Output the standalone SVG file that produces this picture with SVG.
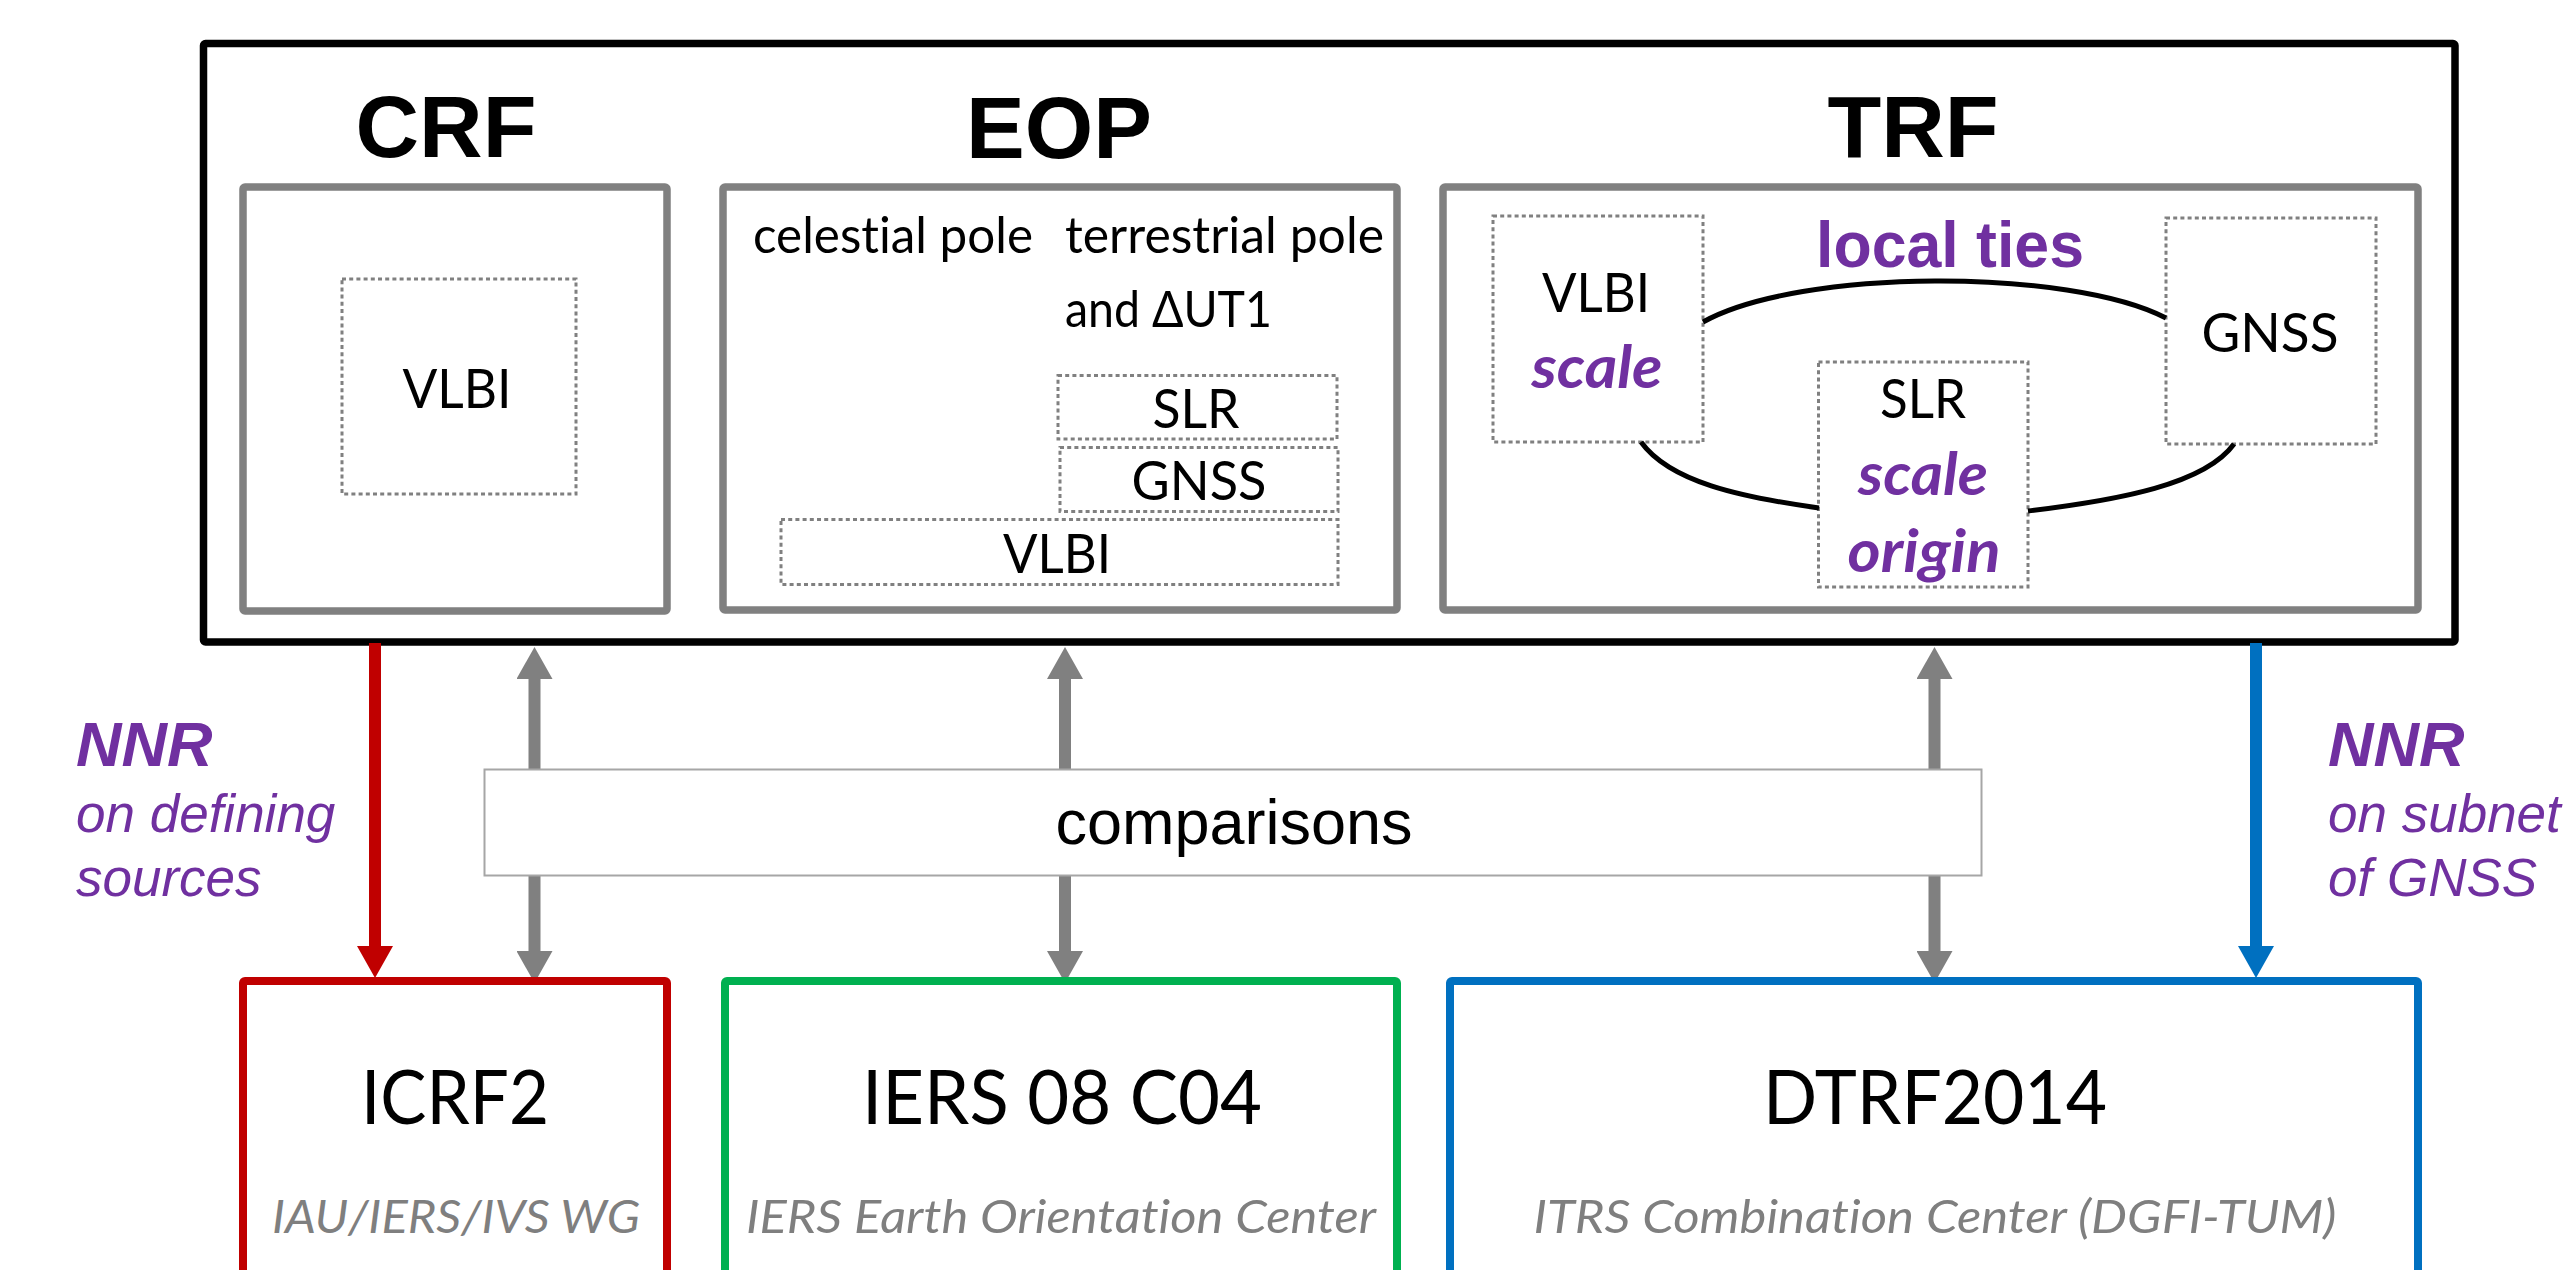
<svg xmlns="http://www.w3.org/2000/svg" width="2569" height="1270" viewBox="0 0 2569 1270">
<style>
text{font-variant-ligatures:none}
.title{font-family:"Liberation Sans",Arial,sans-serif;font-weight:bold;font-size:88px;fill:#000;text-anchor:middle}
.lbl{font-family:Lato,"Open Sans",sans-serif;font-size:55px;fill:#000;text-anchor:middle}
.desc{font-family:Lato,"Open Sans",sans-serif;font-size:50px;fill:#000}
.pur{font-family:Lato,"Open Sans",sans-serif;font-weight:bold;font-style:italic;font-size:60px;fill:#7030A0;text-anchor:middle}
.ties{font-family:"Liberation Sans",Arial,sans-serif;font-weight:bold;font-size:64px;fill:#7030A0;text-anchor:middle}
.nnr{font-family:"Liberation Sans",Arial,sans-serif;font-weight:bold;font-style:italic;font-size:63px;fill:#7030A0}
.nnrs{font-family:"Liberation Sans",Arial,sans-serif;font-style:italic;font-size:53px;fill:#7030A0}
.cmp{font-family:"Liberation Sans",Arial,sans-serif;font-size:63px;fill:#000;text-anchor:middle}
.big{font-family:Lato,"Open Sans",sans-serif;font-size:76px;fill:#000;text-anchor:middle}
.sub{font-family:Lato,"Open Sans",sans-serif;font-style:italic;font-size:47px;fill:#7F7F7F;text-anchor:middle}
.gbox{fill:#fff;stroke:#808080;stroke-width:7.5}
.dot{fill:none;stroke:#808080;stroke-width:3;stroke-dasharray:4 3.2}
.tie{fill:none;stroke:#000;stroke-width:5}
</style>
<defs>
<marker id="ahRed" markerUnits="userSpaceOnUse" viewBox="0 0 32 36" markerWidth="32" markerHeight="36" refX="2" refY="18" orient="auto-start-reverse"><path d="M0,0 L32,18 L0,36 z" fill="#C00000"/></marker>
<marker id="ahGray" markerUnits="userSpaceOnUse" viewBox="0 0 32 36" markerWidth="32" markerHeight="36" refX="2" refY="18" orient="auto-start-reverse"><path d="M0,0 L32,18 L0,36 z" fill="#808080"/></marker>
<marker id="ahBlue" markerUnits="userSpaceOnUse" viewBox="0 0 32 36" markerWidth="32" markerHeight="36" refX="2" refY="18" orient="auto-start-reverse"><path d="M0,0 L32,18 L0,36 z" fill="#0070C0"/></marker>
</defs>
<rect width="2569" height="1270" fill="#fff"/>

<g id="outer">
<rect x="203.5" y="43.5" width="2251.5" height="598.5" rx="2" fill="#fff" stroke="#000" stroke-width="7.5"/>
</g>

<g id="crf">
<text class="title" x="446" y="157">CRF</text>
<rect class="gbox" x="243" y="187" width="424" height="424" rx="2"/>
<rect class="dot" x="342" y="279" width="234" height="215"/>
<text class="lbl" x="457" y="408" textLength="109" lengthAdjust="spacingAndGlyphs">VLBI</text>
</g>

<g id="eop">
<text class="title" x="1059" y="158">EOP</text>
<rect class="gbox" x="723" y="187" width="674" height="423" rx="2"/>
<text class="desc" x="753" y="253" textLength="280" lengthAdjust="spacingAndGlyphs">celestial pole</text>
<text class="desc" x="1065" y="253" textLength="319" lengthAdjust="spacingAndGlyphs">terrestrial pole</text>
<text class="desc" x="1065" y="327" textLength="207" lengthAdjust="spacingAndGlyphs">and ΔUT1</text>
<rect class="dot" x="1058" y="375.5" width="279" height="63.5"/>
<text class="lbl" x="1196" y="428" textLength="87" lengthAdjust="spacingAndGlyphs">SLR</text>
<rect class="dot" x="1060" y="447.5" width="278" height="64"/>
<text class="lbl" x="1199" y="500" textLength="135" lengthAdjust="spacingAndGlyphs">GNSS</text>
<rect class="dot" x="781" y="519.5" width="557" height="65"/>
<text class="lbl" x="1057" y="573" textLength="108" lengthAdjust="spacingAndGlyphs">VLBI</text>
</g>

<g id="trf">
<text class="title" x="1913" y="157">TRF</text>
<rect class="gbox" x="1443" y="187" width="975" height="423" rx="2"/>
<rect class="dot" x="1493" y="216" width="210" height="226"/>
<text class="lbl" x="1596" y="312" textLength="108" lengthAdjust="spacingAndGlyphs">VLBI</text>
<text class="pur" x="1597" y="388" textLength="131" lengthAdjust="spacingAndGlyphs">scale</text>
<rect class="dot" x="2166" y="218" width="210" height="226"/>
<text class="lbl" x="2270" y="352" textLength="137" lengthAdjust="spacingAndGlyphs">GNSS</text>
<rect class="dot" x="1818.5" y="362" width="209.5" height="225"/>
<text class="lbl" x="1923" y="418" textLength="86" lengthAdjust="spacingAndGlyphs">SLR</text>
<text class="pur" x="1923" y="495" textLength="130" lengthAdjust="spacingAndGlyphs">scale</text>
<text class="pur" x="1924" y="572" textLength="153" lengthAdjust="spacingAndGlyphs">origin</text>
<text class="ties" x="1950" y="267" textLength="268" lengthAdjust="spacingAndGlyphs">local ties</text>
</g>

<g id="connectors">
<path class="tie" d="M1703,322 C1800,268 2070,268 2166,318"/>
<path class="tie" d="M1641,442 C1670,482 1740,497 1819,508"/>
<path class="tie" d="M2234,444 C2205,484 2120,500 2028,511"/>
<line x1="375" y1="643" x2="375" y2="948" stroke="#C00000" stroke-width="12" marker-end="url(#ahRed)"/>
<line x1="534.5" y1="677" x2="534.5" y2="953" stroke="#808080" stroke-width="12" marker-start="url(#ahGray)" marker-end="url(#ahGray)"/>
<line x1="1065" y1="677" x2="1065" y2="953" stroke="#808080" stroke-width="12" marker-start="url(#ahGray)" marker-end="url(#ahGray)"/>
<line x1="1934.5" y1="677" x2="1934.5" y2="953" stroke="#808080" stroke-width="12" marker-start="url(#ahGray)" marker-end="url(#ahGray)"/>
<line x1="2256" y1="643" x2="2256" y2="948" stroke="#0070C0" stroke-width="12" marker-end="url(#ahBlue)"/>
</g>

<g id="comparisons">
<rect x="484.5" y="769.5" width="1497" height="106" fill="#fff" stroke="#A6A6A6" stroke-width="2"/>
<text class="cmp" x="1234" y="844">comparisons</text>
</g>

<g id="nnr-left">
<text class="nnr" x="76" y="766">NNR</text>
<text class="nnrs" x="76" y="832">on defining</text>
<text class="nnrs" x="76" y="896">sources</text>
</g>

<g id="nnr-right">
<text class="nnr" x="2328" y="766">NNR</text>
<text class="nnrs" x="2328" y="832">on subnet</text>
<text class="nnrs" x="2328" y="896">of GNSS</text>
</g>

<g id="icrf2">
<rect x="243" y="981" width="424" height="320" rx="2" fill="none" stroke="#C00000" stroke-width="8"/>
<text class="big" x="455" y="1124" textLength="188" lengthAdjust="spacingAndGlyphs">ICRF2</text>
<text class="sub" x="456" y="1233" textLength="368" lengthAdjust="spacingAndGlyphs">IAU/IERS/IVS WG</text>
</g>

<g id="iers">
<rect x="725" y="981" width="672" height="320" rx="2" fill="none" stroke="#00B050" stroke-width="8"/>
<text class="big" x="1062" y="1124" textLength="400" lengthAdjust="spacingAndGlyphs">IERS 08 C04</text>
<text class="sub" x="1061" y="1233" textLength="630" lengthAdjust="spacingAndGlyphs">IERS Earth Orientation Center</text>
</g>

<g id="dtrf">
<rect x="1450" y="981" width="968" height="320" rx="2" fill="none" stroke="#0070C0" stroke-width="8"/>
<text class="big" x="1935" y="1124" textLength="344" lengthAdjust="spacingAndGlyphs">DTRF2014</text>
<text class="sub" x="1935" y="1233" textLength="803" lengthAdjust="spacingAndGlyphs">ITRS Combination Center (DGFI-TUM)</text>
</g>
</svg>
